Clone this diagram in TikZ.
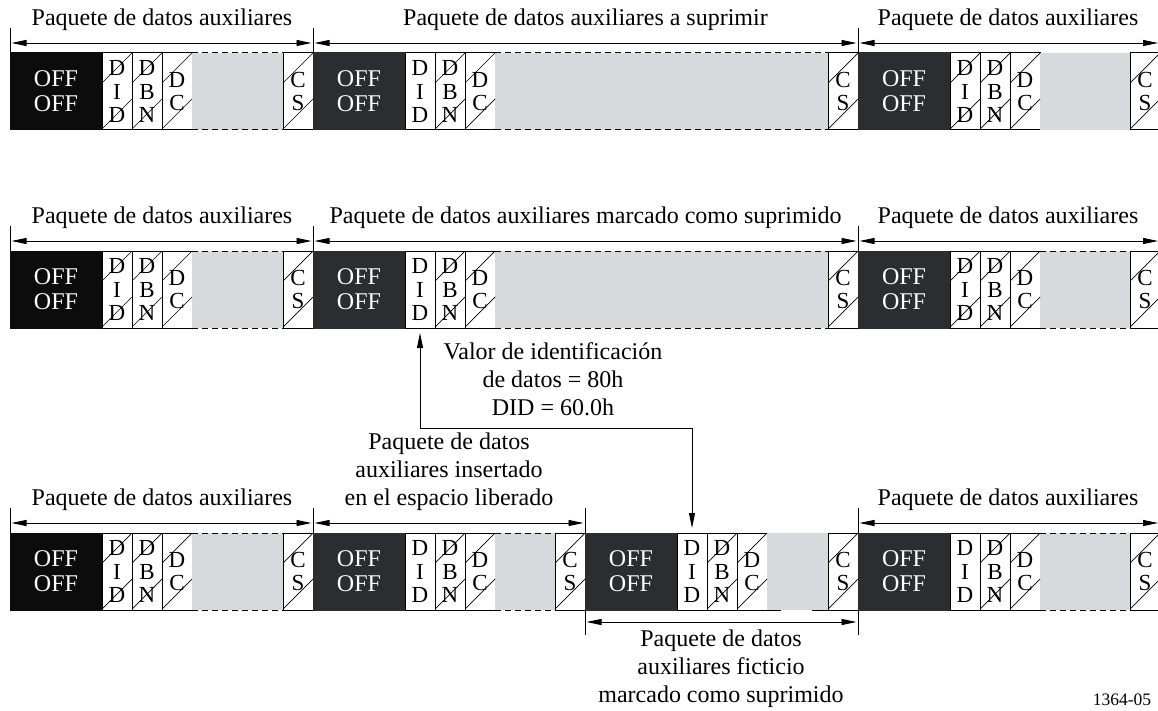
\documentclass[tikz,border=0pt]{standalone}
\usepackage{fontspec}
\setmainfont{Liberation Serif}
\usetikzlibrary{arrows.meta,calc}
\definecolor{offblack}{RGB}{12,12,12}
\definecolor{offdark}{RGB}{43,46,49}
\definecolor{payload}{RGB}{216,217,221}
\newcommand\celltext{\fontsize{23}{23.5}\selectfont}
\newcommand\offtext{\fontsize{24}{25}\selectfont}
\newcommand\lbltext{\fontsize{24}{28}\selectfont}
\newcommand\figtext{\fontsize{17.5}{20}\selectfont}
\tikzset{
  cellbox/.style={draw=black, line width=1pt, fill=white, minimum width=30pt, minimum height=77pt,
    inner sep=0pt, outer sep=0pt, anchor=north west, align=center, font=\celltext},
  offbox/.style={line width=1pt, minimum height=77pt, inner sep=0pt, outer sep=0pt,
    anchor=north west, align=center, text=white, font=\offtext},
  graybox/.style={fill=payload, minimum height=77pt, inner sep=0pt, outer sep=0pt, anchor=north west},
  hatchline/.style={line width=0.7pt},
  graydash/.style={line width=1pt, dash pattern=on 6pt off 4pt},
  tickline/.style={line width=0.9pt},
  dimline/.style={line width=0.9pt, {Triangle[length=15pt,width=6pt]}-{Triangle[length=15pt,width=6pt]},
    shorten <=1.5pt, shorten >=1.5pt},
  annot/.style={line width=0.9pt, {Triangle[length=15pt,width=6pt]}-{Triangle[length=15pt,width=6pt]},
    shorten <=5pt, shorten >=5pt},
  lbl/.style={font=\lbltext, align=center, inner sep=0pt},
}
\newcommand\hatchcell[1]{%
  \draw[hatchline] ($(#1.north west)+(0,30)$) -- (#1.north east);
  \draw[hatchline] ($(#1.south west)+(0,-1)$) -- ($(#1.north east)+(0,46)$);}
% #1 id, #2 x0, #3 y0, #4 off width, #5 gray width, #6 off colour, #7 hatch DID, #8 dashed gray borders
\newcommand\pkt[8]{%
  \node[offbox, fill=#6, draw=#6, minimum width=#4pt] (#1off) at (#2,#3) {OFF\\OFF};
  \node[cellbox] (#1did) at (#1off.north east) {D\\I\\D};
  \node[cellbox] (#1dbn) at (#1did.north east) {D\\B\\N};
  \node[cellbox] (#1dc) at (#1dbn.north east) {D\\C};
  \node[graybox, minimum width=#5pt] (#1gr) at (#1dc.north east) {};
  \node[cellbox] (#1cs) at (#1gr.north east) {C\\S};
  \ifnum#7=1 \hatchcell{#1did}\fi
  \hatchcell{#1dbn}\hatchcell{#1dc}\hatchcell{#1cs}
  \ifnum#8=1
    \draw[graydash] (#1gr.north west) -- (#1gr.north east);
    \draw[graydash] (#1gr.south west) -- (#1gr.south east);
  \fi}
\begin{document}
\begin{tikzpicture}[x=1pt,y=-1pt]
\useasboundingbox (0,0) rectangle (1158,711);

% ---------- packets ----------
\pkt{r1p1}{10}{53}{92}{91}{offblack}{1}{1}
\pkt{r1p2}{313}{53}{92}{333}{offdark}{0}{1}
\pkt{r1p3}{858}{53}{92}{90}{offdark}{1}{0}
\pkt{r2p1}{10}{251}{92}{91}{offblack}{1}{1}
\pkt{r2p2}{313}{251}{92}{333}{offdark}{0}{1}
\pkt{r2p3}{858}{251}{92}{90}{offdark}{1}{1}
\pkt{r3p1}{10}{533}{92}{91}{offblack}{1}{1}
\pkt{r3p2}{313}{533}{92}{60}{offdark}{0}{1}
\pkt{r3p3}{585}{533}{92}{61}{offdark}{0}{0}
\pkt{r3p4}{858}{533}{92}{90}{offdark}{0}{1}
\draw[line width=1pt] (r3p3gr.south west) -- ++(14,0);
\draw[line width=1pt] (r3p3gr.south east) -- ++(-16,0);

% ---------- row 1 headers ----------
\coordinate (h1a) at (10,28); \coordinate (h1b) at (313,28); \coordinate (h1c) at (858,28);
\draw[tickline] (h1a) -- (r1p1off.north west);
\draw[tickline] (h1b) -- (r1p2off.north west);
\draw[tickline] (h1c) -- (r1p3off.north west);
\coordinate (d1a) at (10,43); \coordinate (d1b) at (313,43);
\coordinate (d1c) at (858,43); \coordinate (d1d) at (1159.5,43);
\draw[dimline] (d1a) -- (d1b);
\draw[dimline] (d1b) -- (d1c);
\draw[dimline] (d1c) -- (d1d);
\node[lbl] (l1a) at (162,20) {Paquete de datos auxiliares};
\node[lbl] (l1b) at (585.5,20) {Paquete de datos auxiliares a suprimir};
\node[lbl] (l1c) at (1008,20) {Paquete de datos auxiliares};

% ---------- row 2 headers ----------
\coordinate (h2a) at (10,226); \coordinate (h2b) at (313,226); \coordinate (h2c) at (858,226);
\draw[tickline] (h2a) -- (r2p1off.north west);
\draw[tickline] (h2b) -- (r2p2off.north west);
\draw[tickline] (h2c) -- (r2p3off.north west);
\coordinate (d2a) at (10,241); \coordinate (d2b) at (313,241);
\coordinate (d2c) at (858,241); \coordinate (d2d) at (1159.5,241);
\draw[dimline] (d2a) -- (d2b);
\draw[dimline] (d2b) -- (d2c);
\draw[dimline] (d2c) -- (d2d);
\node[lbl] (l2a) at (162,218) {Paquete de datos auxiliares};
\node[lbl] (l2b) at (585.5,218) {Paquete de datos auxiliares marcado como suprimido};
\node[lbl] (l2c) at (1008,218) {Paquete de datos auxiliares};

% ---------- row 3 headers ----------
\coordinate (h3a) at (10,508); \coordinate (h3b) at (313,508);
\coordinate (h3c) at (585,508); \coordinate (h3d) at (858,508);
\draw[tickline] (h3a) -- (r3p1off.north west);
\draw[tickline] (h3b) -- (r3p2off.north west);
\draw[tickline] (h3c) -- (r3p3off.north west);
\draw[tickline] (h3d) -- (r3p4off.north west);
\coordinate (d3a) at (10,523); \coordinate (d3b) at (313,523);
\coordinate (d3c) at (585,523); \coordinate (d3d) at (858,523);
\coordinate (d3e) at (1159.5,523);
\draw[dimline] (d3a) -- (d3b);
\draw[dimline] (d3b) -- (d3c);
\draw[dimline] (d3d) -- (d3e);
\node[lbl] (l3a) at (162,500) {Paquete de datos auxiliares};
\node[lbl] (l3b) at (449,472) {Paquete de datos\\auxiliares insertado\\en el espacio liberado};
\node[lbl] (l3d) at (1008,500) {Paquete de datos auxiliares};

% ---------- dummy packet dimension below row 3 ----------
\coordinate (b3a) at (585,635); \coordinate (b3b) at (858,635);
\draw[tickline] (r3p3off.south west) -- (b3a);
\draw[tickline] (r3p4off.south west) -- (b3b);
\coordinate (e3a) at (585,622); \coordinate (e3b) at (858,622);
\draw[dimline] (e3a) -- (e3b);
\node[lbl] (l3c) at (721,669) {Paquete de datos\\auxiliares ficticio\\marcado como suprimido};

% ---------- DID annotation ----------
\coordinate (bend) at (692,428);
\draw[annot] (r2p2did.south) |- (bend) -- (r3p3did.north);
\node[lbl] (val) at (553,379) {Valor de identificación\\de datos = 80h\\DID = 60.0h};

\node[font=\figtext, inner sep=0pt] (fig) at (1122,700) {1364-05};
\end{tikzpicture}
\end{document}
